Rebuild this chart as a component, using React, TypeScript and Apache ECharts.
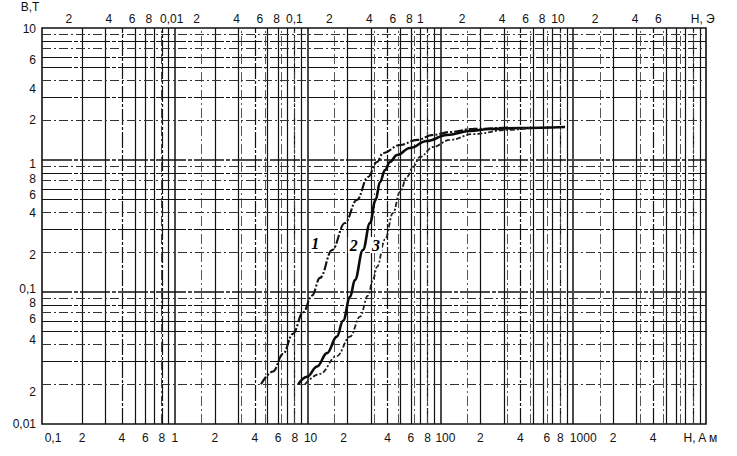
import React, { useEffect, useRef } from "react";
import * as echarts from "echarts";

// ---- data ----
const OE_IN_AM = 79.577; // 1 Oe in A/m
const H_MIN = 0.1;
const H_MAX = 10000;
const B_MIN = 0.01;
const B_MAX = 10;

const curve1H = [4.46, 5.49, 6.53, 7.76, 9.24, 10.8, 12.4, 15.3, 19.1, 23.5, 28.5, 33.3, 37, 49.6, 66.7, 88, 118, 176, 317];
const curve1B = [0.02, 0.025, 0.034, 0.0483, 0.07, 0.094, 0.128, 0.208, 0.333, 0.498, 0.743, 0.966, 1.13, 1.3, 1.42, 1.55, 1.63, 1.72, 1.76];

const curve2H = [8.5, 9.9, 11.8, 14.0, 16.6, 18.5, 20.9, 22.7, 26.1, 29.5, 32.5, 35.1, 38.3, 41.7, 47.1, 59, 79, 112, 167, 236, 397, 868];
const curve2B = [0.02, 0.0228, 0.0273, 0.0344, 0.0459, 0.0605, 0.092, 0.123, 0.208, 0.333, 0.498, 0.681, 0.84, 0.966, 1.09, 1.233, 1.393, 1.548, 1.66, 1.717, 1.747, 1.778];

const curve3H = [9.56, 12.4, 16.6, 20.9, 24.8, 28.5, 31.1, 33.3, 38.3, 44, 49.6, 56, 62.2, 70.2, 88, 118, 176, 317, 473];
const curve3B = [0.02, 0.024, 0.0327, 0.0459, 0.065, 0.094, 0.124, 0.155, 0.25, 0.397, 0.573, 0.743, 0.885, 1.054, 1.254, 1.42, 1.57, 1.69, 1.747];

const curveNames = ["1", "2", "3"];
const curveLabelH = [11.4, 22.3, 32.7];
const curveLabelB = [0.235, 0.227, 0.227];

const bottomTicks = [0.1, 0.2, 0.4, 0.6, 0.8, 1, 2, 4, 6, 8, 10, 20, 40, 60, 80, 100, 200, 400, 600, 800, 1000, 2000, 4000];
const topTicksOe = [0.002, 0.004, 0.006, 0.008, 0.01, 0.02, 0.04, 0.06, 0.08, 0.1, 0.2, 0.4, 0.6, 0.8, 1, 2, 4, 6, 8, 10, 20, 40, 60];
const yTicks = [0.01, 0.02, 0.04, 0.06, 0.08, 0.1, 0.2, 0.4, 0.6, 0.8, 1, 2, 4, 6, 10];

const bottomName = "H, A м";
const topName = "H, Э";
const yName = "B,T";
const bottomNameAt = 9900;
const topNameAt = 125;

// ---- label formatting helpers ----
function fmtNum(v: number): string {
  const e = Math.floor(Math.log10(v) + 1e-9);
  const m = Math.round(v / Math.pow(10, e));
  if (m === 1 || m === 10) {
    const ee = m === 10 ? e + 1 : e;
    if (ee >= 0) return String(Math.round(Math.pow(10, ee)));
    return "0," + "0".repeat(-ee - 1) + "1";
  }
  return String(m);
}

const same = (a: number, b: number) => Math.abs(Math.log10(a) - Math.log10(b)) < 1e-6;

// label offsets (px) that imitate the hand-lettered scale of the scan
function bottomShift(v: number): [number, number] {
  const table: [number, number][] = [[0.1, 11], [10, 3], [20, -4], [100, 5], [600, 3], [1000, 10], [bottomNameAt, -5]];
  for (const t of table) if (same(v, t[0])) return [t[1], 0];
  return [0, 0];
}
function topShift(v: number): [number, number] {
  const table: [number, number][] = [[0.01, 10], [0.1, 0], [1, -7], [10, -2], [topNameAt, -3]];
  for (const t of table) if (same(v, t[0])) return [t[1], 0];
  if (v > 0.015) return [-5, 0];
  return [0, 0];
}
function yShift(v: number): [number, number] {
  const table: [number, number][] = [[10, 1], [6, 3], [4, 8], [1, 4], [0.8, 6], [0.6, 6], [0.2, 3], [0.1, -3], [0.08, -2], [0.06, -2], [0.04, -5], [0.02, 8]];
  for (const t of table) if (same(v, t[0])) return [0, t[1]];
  return [0, 0];
}

const keyOf = (s: [number, number]) => "p" + (s[0] + 50) + "q" + (s[1] + 50);

function makeRich(values: number[], shift: (v: number) => [number, number]) {
  const rich: Record<string, any> = {};
  values.forEach((v) => {
    const [dx, dy] = shift(v);
    rich[keyOf([dx, dy])] = {
      padding: [dy > 0 ? 2 * dy : 0, dx < 0 ? -2 * dx : 0, dy < 0 ? -2 * dy : 0, dx > 0 ? 2 * dx : 0],
    };
  });
  return rich;
}

function makeFormatter(shift: (v: number) => [number, number], nameAt: number | null, name: string) {
  return (v: number) => {
    const text = nameAt !== null && same(v, nameAt) ? name : fmtNum(v);
    return "{" + keyOf(shift(v)) + "|" + text + "}";
  };
}

// ---- grid lines of the graph paper ----
function decadeGrid(lo: number, hi: number, ks: number[]): number[] {
  const out: number[] = [];
  for (let e = -4; e <= 5; e++) {
    ks.forEach((k) => {
      const v = k * Math.pow(10, e);
      if (v > lo * 1.0001 && v < hi * 0.9999) out.push(v);
    });
  }
  return out;
}

const INK = "#111111";
const FONT = "'Liberation Sans', Arial, sans-serif";

export default function App() {
  const ref = useRef<HTMLDivElement>(null);
  useEffect(() => {
    if (!ref.current) return;
    const chart = echarts.init(ref.current, undefined, { renderer: "svg" });

    const mant = (v: number) => Math.round(v / Math.pow(10, Math.floor(Math.log10(v) + 1e-9)));

    const vLines = decadeGrid(H_MIN, H_MAX, [1, 2, 3, 4, 5, 6, 7, 8, 9]).map((v) => {
      const k = mant(v);
      return {
        xAxis: v,
        lineStyle: {
          color: INK,
          width: k === 1 ? 1.5 : 1.2,
          type: k === 4 || k === 8 ? [16, 2, 3, 2] : "solid",
        },
      };
    });
    const hLines = decadeGrid(B_MIN, B_MAX, [1, 2, 3, 4, 5, 6, 7, 8, 9]).map((v) => {
      const k = mant(v);
      const solid = k === 1 || k === 3 || k === 5 || k === 6 || k === 8;
      return {
        yAxis: v,
        lineStyle: {
          color: solid ? INK : "#333",
          width: k === 1 ? 1.5 : 1.2,
          type: solid ? [30, 2, 4, 2] : [9, 3, 2, 3],
        },
      };
    });
    const oeLines = decadeGrid(H_MIN / OE_IN_AM, H_MAX / OE_IN_AM, [1, 2, 4, 6, 8]).map((v) => ({
      xAxis: v,
      lineStyle: { color: "#444", width: 0.9, type: [10, 3, 2, 3] },
    }));

    const labelStyle = {
      color: INK,
      fontSize: 12,
      fontFamily: FONT,
      showMinLabel: true,
      showMaxLabel: true,
    };

    const curveSeries = [
      { H: curve1H, B: curve1B, width: 2.1, type: [9, 2, 2, 2] as any, color: "#111" },
      { H: curve2H, B: curve2B, width: 2.6, type: "solid" as any, color: "#0a0a0a" },
      { H: curve3H, B: curve3B, width: 1.8, type: [5, 2, 2, 2] as any, color: "#222" },
    ].map((c, i) => ({
      type: "line",
      name: "curve" + curveNames[i],
      xAxisIndex: 0,
      yAxisIndex: 0,
      data: c.H.map((h, j) => [h, c.B[j]]),
      showSymbol: false,
      smooth: 0.4,
      smoothMonotone: "x",
      z: 5,
      lineStyle: { color: c.color, width: c.width, type: c.type },
    }));

    const topValues = [...topTicksOe, topNameAt];
    const bottomValues = [...bottomTicks, bottomNameAt];

    const option: any = {
      animation: false,
      backgroundColor: "#ffffff",
      grid: {
        left: 42,
        right: 31,
        top: 28,
        bottom: 32,
        show: true,
        borderColor: INK,
        borderWidth: 1.6,
        backgroundColor: "transparent",
      },
      xAxis: [
        {
          type: "log",
          logBase: 10,
          min: H_MIN,
          max: H_MAX,
          position: "bottom",
          axisLine: { show: false },
          axisTick: { show: false },
          splitLine: { show: false },
          axisLabel: {
            ...labelStyle,
            margin: 8,
            customValues: bottomValues,
            formatter: makeFormatter(bottomShift, bottomNameAt, bottomName),
            rich: makeRich(bottomValues, bottomShift),
          },
        },
        {
          type: "log",
          logBase: 10,
          min: H_MIN / OE_IN_AM,
          max: H_MAX / OE_IN_AM,
          position: "top",
          axisLine: { show: false },
          axisTick: { show: false },
          splitLine: { show: false },
          axisLabel: {
            ...labelStyle,
            margin: 3,
            customValues: topValues,
            formatter: makeFormatter(topShift, topNameAt, topName),
            rich: makeRich(topValues, topShift),
          },
        },
      ],
      yAxis: [
        {
          type: "log",
          logBase: 10,
          min: B_MIN,
          max: B_MAX,
          position: "left",
          name: yName,
          nameLocation: "end",
          nameGap: 15,
          nameTextStyle: { color: INK, fontSize: 12, fontFamily: FONT, padding: [0, 24, 0, 0] },
          axisLine: { show: false },
          axisTick: { show: false },
          splitLine: { show: false },
          axisLabel: {
            ...labelStyle,
            margin: 6,
            customValues: yTicks,
            formatter: makeFormatter(yShift, null, ""),
            rich: makeRich(yTicks, yShift),
          },
        },
      ],
      series: [
        {
          type: "line",
          name: "gridAm",
          xAxisIndex: 0,
          yAxisIndex: 0,
          data: [],
          silent: true,
          z: 1,
          markLine: {
            silent: true,
            symbol: ["none", "none"],
            label: { show: false },
            animation: false,
            data: [...vLines, ...hLines],
          },
        },
        {
          type: "line",
          name: "gridOe",
          xAxisIndex: 1,
          yAxisIndex: 0,
          data: [],
          silent: true,
          z: 1,
          markLine: {
            silent: true,
            symbol: ["none", "none"],
            label: { show: false },
            animation: false,
            data: oeLines,
          },
        },
        ...curveSeries,
        {
          type: "scatter",
          name: "labels",
          xAxisIndex: 0,
          yAxisIndex: 0,
          symbolSize: 0,
          z: 6,
          itemStyle: { opacity: 1, color: "#000" },
          data: curveNames.map((n, i) => ({ name: n, value: [curveLabelH[i], curveLabelB[i]] })),
          label: {
            show: true,
            position: "inside",
            formatter: (p: any) => p.name,
            color: "#000",
            opacity: 1,
            fontSize: 16,
            fontStyle: "italic",
            fontWeight: "bold",
            fontFamily: "'Liberation Serif', 'DejaVu Serif', serif",
            backgroundColor: "#ffffff",
            padding: [0, 2],
          },
        },
      ],
    };

    chart.setOption(option);
    return () => chart.dispose();
  }, []);

  return <div ref={ref} style={{ width: 737, height: 456, position: "absolute", left: 0, top: 0 }} />;
}
